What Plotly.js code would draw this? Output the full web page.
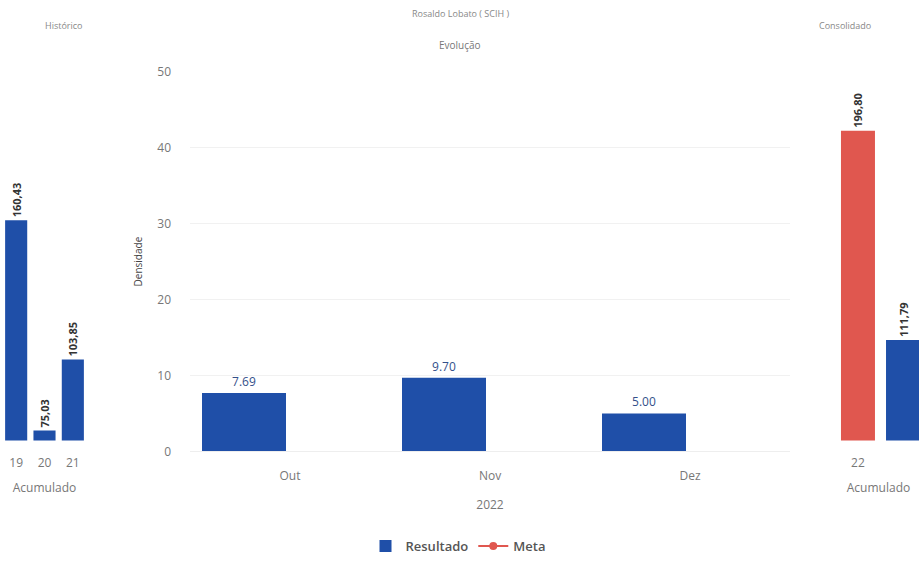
<!DOCTYPE html>
<html>
<head>
<meta charset="utf-8">
<script src="https://cdn.plot.ly/plotly-3.0.1.min.js"></script>
<style>html,body{margin:0;padding:0;background:#fff;}#chart{width:919px;height:561px;}</style>
</head>
<body>
<div id="chart"></div>
<script>
// Data
const histCategories = [19, 20, 21];
const histResultado = [160.43, 75.03, 103.85];
const months = ["Out", "Nov", "Dez"];
const monthResultado = [7.69, 9.70, 5.00];
const monthMeta = [null, null, null];
const consCategory = [22];
const consMeta = [196.80];
const consResultado = [111.79];

const BLUE = "#1f4fa8";
const RED = "#e0574f";
const FONT = "Open Sans, sans-serif";
const comma = v => v.toFixed(2).replace(".", ",");

const W = 919, H = 561;
const px = v => v / W;
const py = v => 1 - v / H;

const sideText = {family: FONT, size: 11, color: "#333", weight: "bold"};

const traces = [
  {
    type: "bar", x: histCategories, y: histResultado, xaxis: "x", yaxis: "y",
    marker: {color: BLUE}, width: 0.78, showlegend: false, name: "Resultado",
    text: histResultado.map(comma), textposition: "outside", textangle: -90,
    constraintext: "none", cliponaxis: false, textfont: sideText
  },
  {
    type: "bar", x: months, y: monthResultado, xaxis: "x2", yaxis: "y2",
    marker: {color: BLUE}, width: 0.42, offset: -0.44, name: "Resultado",
    text: monthResultado.map(v => v.toFixed(2)), textposition: "outside", textangle: 0,
    constraintext: "none",
    textfont: {family: FONT, size: 12, color: "#34508a"}, legendrank: 1
  },
  {
    type: "scatter", mode: "lines+markers", x: months, y: monthMeta, xaxis: "x2", yaxis: "y2",
    name: "Meta", line: {color: RED, width: 2}, marker: {color: RED, size: 8}, legendrank: 2
  },
  {
    type: "bar", x: consCategory, y: consMeta, xaxis: "x3", yaxis: "y3",
    marker: {color: RED}, width: 0.4, offset: -0.2, showlegend: false, name: "Meta",
    text: consMeta.map(comma), textposition: "outside", textangle: -90,
    constraintext: "none", cliponaxis: false, textfont: sideText
  },
  {
    type: "bar", x: consCategory, y: consResultado, xaxis: "x3", yaxis: "y3",
    marker: {color: BLUE}, width: 0.4, offset: 0.33, showlegend: false, name: "Resultado",
    text: consResultado.map(comma), textposition: "outside", textangle: -90,
    constraintext: "none", textfont: sideText
  }
];

const sideRange = [71, 220.8];
const tickFont = {family: FONT, size: 12, color: "#777"};

const layout = {
  width: W, height: H,
  margin: {l: 0, r: 0, t: 0, b: 0},
  paper_bgcolor: "#fff", plot_bgcolor: "#fff",
  font: {family: FONT, color: "#666"},
  barmode: "overlay",
  showlegend: true,
  legend: {orientation: "h", x: px(458), xanchor: "center", y: py(548), yanchor: "middle",
           itemwidth: 30,
           font: {family: FONT, size: 13, color: "#555", weight: 600}, traceorder: "normal"},
  xaxis: {domain: [px(2), px(87)], range: [18.5, 21.5], tickvals: histCategories,
          ticktext: histCategories.map(String), showgrid: false, zeroline: false, showline: false,
          tickfont: tickFont, ticklabelstandoff: 14,
          title: {text: "Acumulado", font: {family: FONT, size: 12, color: "#777"}, standoff: 13},
          fixedrange: true},
  yaxis: {domain: [py(442), py(72)], range: sideRange, visible: false, fixedrange: true},
  xaxis2: {domain: [px(190), px(790)], range: [-0.5, 2.5], type: "category",
           showgrid: false, zeroline: false, showline: true, linecolor: "#eee", linewidth: 1,
           tickfont: tickFont, ticklabelstandoff: 13,
           title: {text: "2022", font: {family: FONT, size: 12, color: "#777"}, standoff: 17},
           anchor: "y2"},
  yaxis2: {domain: [py(453), py(72)], range: [0, 50], dtick: 10, anchor: "x2",
           showgrid: true, gridcolor: "#f1f1f1", zeroline: false, showline: false,
           tickfont: tickFont, ticklabelstandoff: 18,
           title: {text: "Densidade", font: {family: FONT, size: 10, color: "#444"}, standoff: 12}},
  xaxis3: {domain: [px(838), 1], range: [21.765, 22.718], tickvals: consCategory,
           ticktext: consCategory.map(String), showgrid: false, zeroline: false, showline: false,
           tickfont: tickFont, anchor: "y3", ticklabelstandoff: 14,
           title: {text: "Acumulado", font: {family: FONT, size: 12, color: "#777"}, standoff: 13}},
  yaxis3: {domain: [py(442), py(72)], range: sideRange, visible: false, anchor: "x3"},
  annotations: [
    {text: "Rosaldo Lobato ( SCIH )", x: px(460), y: py(14), xref: "paper", yref: "paper",
     yanchor: "middle", showarrow: false, font: {family: FONT, size: 9, color: "#888"}},
    {text: "Evolução", x: px(460), y: py(45), xref: "paper", yref: "paper",
     yanchor: "middle", showarrow: false, font: {family: FONT, size: 10, color: "#777"}},
    {text: "Histórico", x: px(43), y: py(26), xref: "paper", yref: "paper",
     yanchor: "middle", showarrow: false, font: {family: FONT, size: 9, color: "#888"}},
    {text: "Consolidado", x: px(873), y: py(26), xref: "paper", yref: "paper",
     yanchor: "middle", showarrow: false, font: {family: FONT, size: 9, color: "#888"}}
  ]
};

Plotly.newPlot("chart", traces, layout, {displayModeBar: false, staticPlot: true});
</script>
</body>
</html>
